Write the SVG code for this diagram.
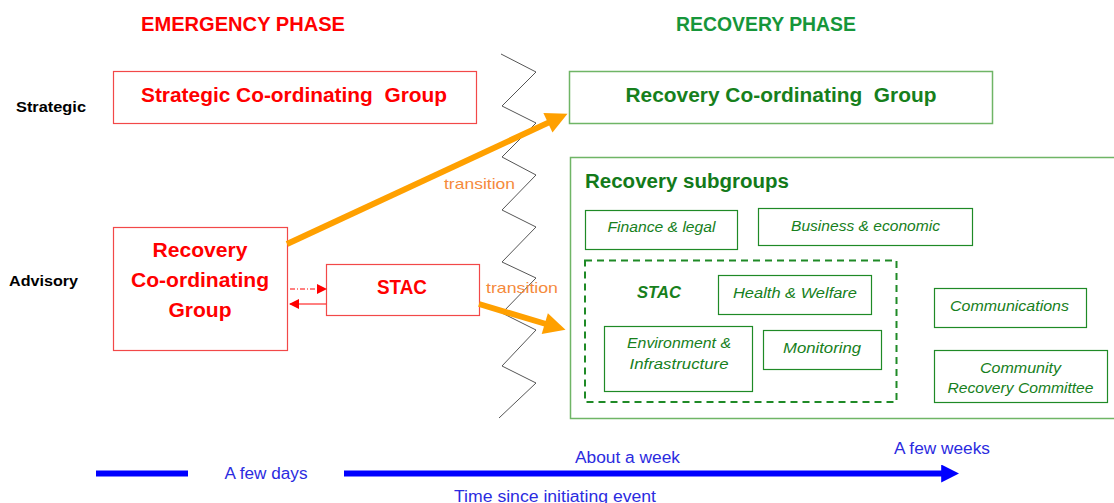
<svg xmlns="http://www.w3.org/2000/svg" width="1114" height="503" viewBox="0 0 1114 503">
<defs>
<style>
text{font-family:"Liberation Sans",Arial,sans-serif;text-anchor:middle}
.red{fill:#ff0000;font-weight:bold;font-size:20px}
.gr{fill:#17801c;font-weight:bold;font-size:20px}
.lab{fill:#000;font-weight:bold;font-size:14px}
.tr{fill:#f58a3c;font-size:15px}
.sub{fill:#17801c;font-style:italic;font-size:14px}
.blue{fill:#2b2be0;font-size:16px}
.rbox{fill:#fff;stroke:#f24848;stroke-width:1.2}
.gbox{fill:#fff;stroke:#6fb566;stroke-width:1.5}
.sbox{fill:#fff;stroke:#1f8a26;stroke-width:1.2}
</style>
<marker id="oa" viewBox="0 0 10 10" refX="3" refY="5" markerWidth="4" markerHeight="3.6" orient="auto" markerUnits="strokeWidth"><path d="M0,0 L10,5 L0,10 z" fill="#ffa000"/></marker>
<marker id="ra" viewBox="0 0 10 10" refX="9" refY="5" markerWidth="10" markerHeight="10" orient="auto" markerUnits="userSpaceOnUse"><path d="M0,0 L10,5 L0,10 z" fill="#ff0000"/></marker>
<marker id="ba" viewBox="0 0 10 10" refX="1" refY="5" markerWidth="18" markerHeight="18" orient="auto" markerUnits="userSpaceOnUse"><path d="M0,0 L10,5 L0,10 z" fill="#0000ff"/></marker>
</defs>
<rect width="1114" height="503" fill="#fff"/>

<g id="headings">
<text class="red" x="243" y="31" textLength="204" lengthAdjust="spacingAndGlyphs">EMERGENCY PHASE</text>
<text class="gr" x="766" y="31" textLength="180" lengthAdjust="spacingAndGlyphs" style="fill:#16963a">RECOVERY PHASE</text>
<text class="lab" x="51" y="112" textLength="70" lengthAdjust="spacingAndGlyphs">Strategic</text>
<text class="lab" x="43.5" y="286" textLength="69" lengthAdjust="spacingAndGlyphs">Advisory</text>
</g>

<g id="zigzag">
<polyline points="501,54 536,72 502,106 536,123 502,157 536,175 502,210 536,227 502,262 536,278 502,313 536,330 502,366 536,383 499,418" fill="none" stroke="#555" stroke-width="1"/>
</g>

<g id="scg">
<rect class="rbox" x="113.5" y="71.5" width="363" height="52"/>
<text class="red" x="294" y="102" textLength="306" lengthAdjust="spacingAndGlyphs" xml:space="preserve">Strategic Co-ordinating  Group</text>
</g>

<g id="rcg-emergency">
<rect class="rbox" x="113.5" y="227.5" width="174" height="123"/>
<text class="red" x="200" y="257" textLength="95" lengthAdjust="spacingAndGlyphs">Recovery</text>
<text class="red" x="200" y="287" textLength="138" lengthAdjust="spacingAndGlyphs">Co-ordinating</text>
<text class="red" x="200" y="317" textLength="63" lengthAdjust="spacingAndGlyphs">Group</text>
</g>

<g id="stac-emergency">
<rect class="rbox" x="326.5" y="264.5" width="153" height="51"/>
<text class="red" x="402" y="294" textLength="50" lengthAdjust="spacingAndGlyphs">STAC</text>
</g>

<g id="rcg-recovery">
<rect class="gbox" x="569.5" y="71.5" width="423" height="52"/>
<text class="gr" x="781" y="102" textLength="311" lengthAdjust="spacingAndGlyphs" xml:space="preserve">Recovery Co-ordinating  Group</text>
</g>

<g id="subgroups">
<rect class="gbox" x="570.5" y="157.5" width="560" height="261"/>
<text class="gr" x="687" y="188" textLength="204" lengthAdjust="spacingAndGlyphs" style="fill:#137a1a">Recovery subgroups</text>
</g>

<g id="finance">
<rect class="sbox" x="585.5" y="210.5" width="152" height="39"/>
<text class="sub" x="661.5" y="232" textLength="108" lengthAdjust="spacingAndGlyphs">Finance &amp; legal</text>
</g>
<g id="business">
<rect class="sbox" x="758.5" y="208.5" width="214" height="37"/>
<text class="sub" x="865.5" y="231" textLength="149" lengthAdjust="spacingAndGlyphs">Business &amp; economic</text>
</g>
<g id="stac-group">
<rect x="585" y="260.5" width="311.5" height="141.5" fill="none" stroke="#1f8a26" stroke-width="2" stroke-dasharray="7 5"/>
<text class="sub" x="659" y="298" style="font-weight:bold;font-size:17px" textLength="44" lengthAdjust="spacingAndGlyphs">STAC</text>
</g>
<g id="health">
<rect class="sbox" x="718.5" y="275.5" width="153" height="39"/>
<text class="sub" x="795" y="298" textLength="124" lengthAdjust="spacingAndGlyphs">Health &amp; Welfare</text>
</g>
<g id="environment">
<rect class="sbox" x="604.5" y="326.5" width="148" height="65"/>
<text class="sub" x="679" y="348" textLength="104" lengthAdjust="spacingAndGlyphs">Environment &amp;</text>
<text class="sub" x="679" y="369" textLength="99" lengthAdjust="spacingAndGlyphs">Infrastructure</text>
</g>
<g id="monitoring">
<rect class="sbox" x="763.5" y="330.5" width="118" height="39"/>
<text class="sub" x="822" y="353" textLength="78" lengthAdjust="spacingAndGlyphs">Monitoring</text>
</g>
<g id="communications">
<rect class="sbox" x="934.5" y="288.5" width="152" height="39"/>
<text class="sub" x="1009.5" y="311" textLength="119" lengthAdjust="spacingAndGlyphs">Communications</text>
</g>
<g id="community">
<rect class="sbox" x="934.5" y="350.5" width="173" height="52"/>
<text class="sub" x="1020.5" y="373" textLength="81" lengthAdjust="spacingAndGlyphs">Community</text>
<text class="sub" x="1020.5" y="393" textLength="146" lengthAdjust="spacingAndGlyphs">Recovery Committee</text>
</g>

<g id="connectors">
<path d="M287,244 L553.8,120.1" fill="none" stroke="#ffa000" stroke-width="6" marker-end="url(#oa)"/>
<path d="M479,304 L551,325.5" fill="none" stroke="#ffa000" stroke-width="6" marker-end="url(#oa)"/>
<path d="M290,289 L326,289" fill="none" stroke="#ff0000" stroke-width="1" stroke-dasharray="5 2 1 2" marker-end="url(#ra)"/>
<path d="M326,304 L290,304" fill="none" stroke="#ff0000" stroke-width="1" marker-end="url(#ra)"/>
<text class="tr" x="479.5" y="189" textLength="71" lengthAdjust="spacingAndGlyphs">transition</text>
<text class="tr" x="522" y="293" textLength="72" lengthAdjust="spacingAndGlyphs">transition</text>
</g>

<g id="timeline">
<line x1="96" y1="473.5" x2="188" y2="473.5" stroke="#0000ff" stroke-width="6"/>
<path d="M344,473.5 L943,473.5" fill="none" stroke="#0000ff" stroke-width="6" marker-end="url(#ba)"/>
<text class="blue" x="266" y="479" textLength="83" lengthAdjust="spacingAndGlyphs">A few days</text>
<text class="blue" x="627.5" y="463" textLength="105" lengthAdjust="spacingAndGlyphs">About a week</text>
<text class="blue" x="942" y="454" textLength="96" lengthAdjust="spacingAndGlyphs">A few weeks</text>
<text class="blue" x="555" y="502" textLength="202" lengthAdjust="spacingAndGlyphs">Time since initiating event</text>
</g>
</svg>
